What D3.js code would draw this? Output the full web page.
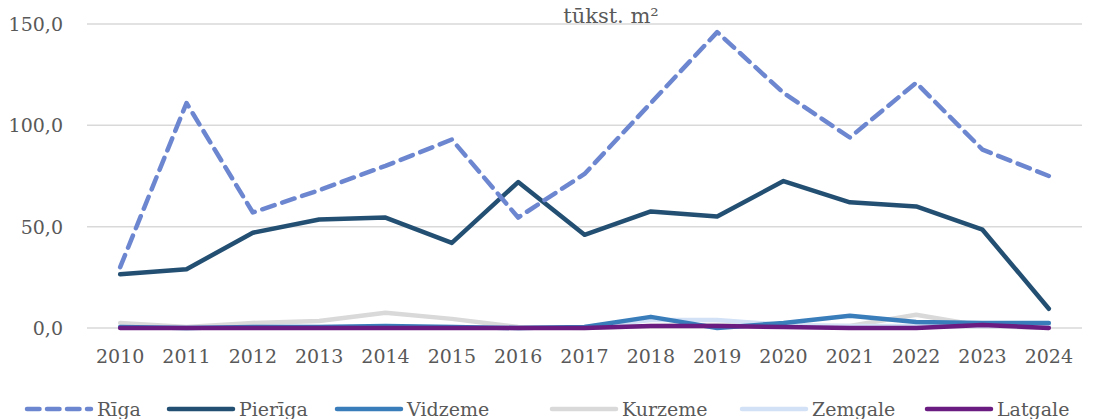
<!DOCTYPE html>
<html lang="lv">
<head>
<meta charset="utf-8">
<title>tūkst. m²</title>
<script src="https://d3js.org/d3.v7.min.js"></script>
<style>
body { margin: 0; background: #fff; }
svg { display: block; font-family: "DejaVu Serif", serif; }
.tick text, .axis-label, .legend text { fill: #595959; font-size: 19px; }
.axis-label { font-size: 21px; }
</style>
</head>
<body>
<svg width="1098" height="419"></svg>
<script>
var years = ["2010","2011","2012","2013","2014","2015","2016","2017","2018","2019","2020","2021","2022","2023","2024"];
var regions = ["Rīga","Pierīga","Vidzeme","Kurzeme","Zemgale","Latgale"];
var riga    = [30, 111, 57, 68, 80, 93, 54.5, 76, 111, 146, 116, 94, 121, 88, 75];
var pieriga = [26.5, 29, 47, 53.5, 54.5, 42, 72, 46, 57.5, 55, 72.5, 62, 60, 48.5, 9.5];
var vidzeme = [0.5, 0, 0.5, 0.5, 1, 0.5, 0, 0.5, 5.5, 0, 2.5, 6, 3, 2.5, 2.5];
var kurzeme = [2.5, 0.5, 2.5, 3.5, 7.5, 4.5, 0.5, 0, 1, 1.5, 1, 1, 6.5, 1, 0];
var zemgale = [0.5, 0, 0.5, 0.5, 0.5, 0.5, 0, 0.5, 4, 4, 1.5, 1, 1, 1, 1];
var latgale = [0, 0, 0, 0, 0, 0, 0, 0, 1, 1, 0.5, 0, 0, 1.5, 0];
var yTicks = [0, 50, 100, 150];

var colors = ["#6d86d0","#234f73","#3a7dbb","#d9d9d9","#d2e1f5","#6b1c80"];
var series = [riga, pieriga, vidzeme, kurzeme, zemgale, latgale];

var svg = d3.select("svg");
var plotL = 87, plotR = 1082, plotT = 24, plotB = 328;

var x = d3.scaleBand().domain(years).range([plotL, plotR]);
var y = d3.scaleLinear().domain([0, 150]).range([plotB, plotT]);
var fmt = function(v) { return d3.format(".1f")(v).replace(".", ","); };

// gridlines
svg.append("g")
  .selectAll("line").data(yTicks).enter().append("line")
    .attr("x1", plotL).attr("x2", plotR)
    .attr("y1", function(d) { return y(d); }).attr("y2", function(d) { return y(d); })
    .attr("stroke", "#d9d9d9").attr("stroke-width", 1.5);

var yAxis = svg.append("g")
    .attr("transform", "translate(" + (plotL - 24) + ",0)")
    .call(d3.axisLeft(y).tickValues(yTicks).tickFormat(fmt).tickSize(0));
yAxis.select(".domain").remove();
yAxis.selectAll("text").attr("x", 0).attr("dy", "0.35em");

var xAxis = svg.append("g")
    .attr("transform", "translate(0," + plotB + ")")
    .call(d3.axisBottom(x).tickSize(0));
xAxis.select(".domain").remove();
xAxis.selectAll("text").attr("y", 28).attr("dy", "0.35em");
svg.selectAll(".tick text").style("font-family", "DejaVu Serif, serif").style("font-size", "19px").style("fill", "#595959");

svg.append("text")
    .attr("class", "axis-label")
    .attr("x", 611).attr("y", 23)
    .attr("text-anchor", "middle")
    .text("tūkst. m²");

var line = d3.line()
    .x(function(d, i) { return x(years[i]) + x.bandwidth() / 2; })
    .y(function(d) { return y(d); });

// small regions underneath, Latgale over them, Rīga on top
var order = [3, 4, 2, 1, 5, 0];
order.forEach(function(k) {
  svg.append("path")
    .datum(series[k])
    .attr("d", line)
    .attr("fill", "none")
    .attr("stroke", colors[k])
    .attr("stroke-width", 4.5)
    .attr("stroke-linejoin", "round")
    .attr("stroke-linecap", "round")
    .attr("stroke-dasharray", k === 0 ? "13 8" : null);
});

// legend
var legX = [27, 169, 337, 552, 742, 927];
var leg = svg.append("g").attr("class", "legend")
  .selectAll("g").data(regions).enter().append("g")
    .attr("transform", function(d, i) { return "translate(" + legX[i] + ",409)"; });
leg.append("line")
    .attr("x1", 0).attr("x2", 64)
    .attr("stroke", function(d, i) { return colors[i]; })
    .attr("stroke-width", 4.5)
    .attr("stroke-linecap", "round")
    .attr("stroke-dasharray", function(d, i) { return i === 0 ? "12.5 7.5" : null; });
leg.append("text")
    .attr("x", 70).attr("dy", "0.35em")
    .text(function(d) { return d; });
</script>
</body>
</html>
